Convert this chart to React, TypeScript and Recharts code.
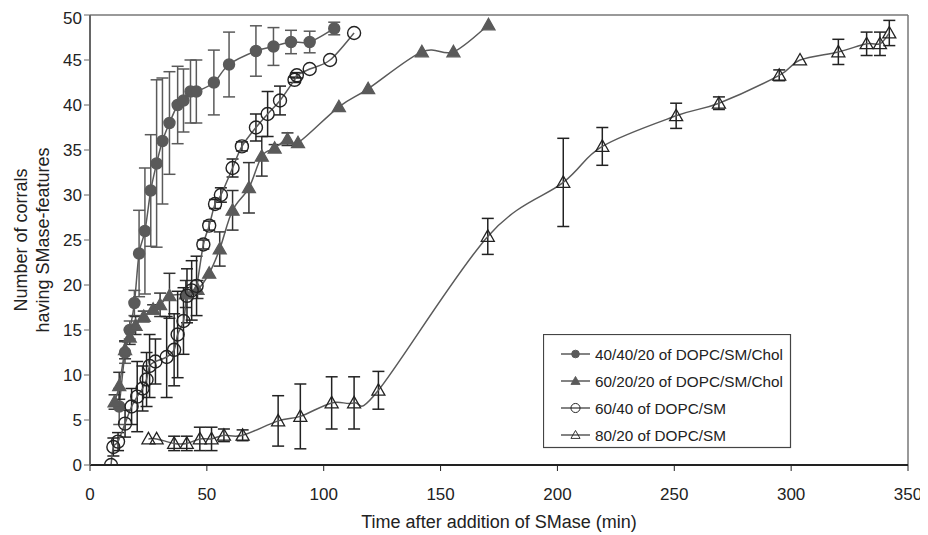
import React from 'react';
import {
  ComposedChart, Line, XAxis, YAxis, ErrorBar, ReferenceLine,
} from 'recharts';

// [time (min), corrals, error]
const cholCircle = [
  [12.5, 6.5, 2], [15, 12.5, 1.2], [17, 15, 1], [19, 18, 1.4], [21, 23.5, 4.8],
  [23.5, 26, 7], [26, 30.5, 6.2], [28.5, 33.5, 9.3], [31, 36, 7], [34, 38, 5.7],
  [37.5, 40, 4.3], [40, 40.5, 3.5], [43, 41.5, 3.5], [45.5, 41.5, 3.5], [53, 42.5, 3.6],
  [59.5, 44.5, 3.6], [71, 46, 2.8], [78.5, 46.5, 2.1], [86, 47, 1.3], [94, 47, 1.2],
  [104.5, 48.5, 0.7],
];
const cholTriangle = [
  [10.5, 7, 0.8], [12.5, 8.8, 1.5], [15, 12.8, 1], [17, 14.2, 0.8], [19.5, 15.5, 1],
  [23, 16.5, 0.6], [27, 17.3, 0.5], [30, 17.8, 1.3], [34, 18.8, 2.5], [41, 19, 1.5],
  [46, 19.5, 1], [51, 21.3, 0], [55.5, 24, 1.9], [61, 28.3, 2.2], [68, 30.8, 2.8],
  [73.5, 34.3, 2.2], [79, 35.2, 0.4], [84.5, 36.2, 0.7], [89, 35.8, 0], [106.5, 39.8, 0],
  [119, 41.8, 0], [142, 45.9, 0], [155.5, 45.9, 0], [170.5, 48.9, 0],
];
const smCircle = [
  [9, 0, 0], [10, 2, 1], [12, 2.6, 1], [15, 4.6, 1.5], [17.8, 6.5, 2], [20.2, 7.6, 3.9],
  [22.5, 8.5, 2.5], [24.2, 9.5, 3], [25.5, 11, 3.5], [28, 11.5, 2.5], [32.8, 12, 4.5],
  [36, 12.8, 4], [37.5, 14.5, 4.8], [40, 16, 3.7], [41.5, 18.8, 3], [43.5, 19.4, 3.3],
  [45.6, 19.9, 3.3], [48.5, 24.5, 0.5], [51, 26.6, 0.5], [53.5, 29, 0.5], [56, 30, 0.8],
  [61, 33, 1], [65, 35.4, 0.5], [71, 37.5, 1.5], [76, 39, 2.5], [81.3, 40.5, 1.6],
  [87.5, 42.8, 0.3], [88.5, 43.3, 0.3], [94, 44, 0], [102.7, 45, 0], [113, 48, 0],
];
const smTriangle = [
  [25, 2.9, 0], [28.5, 2.9, 0], [36, 2.4, 0.8], [41.4, 2.4, 0.8], [47, 2.9, 1.3],
  [52, 2.9, 1.3], [57.3, 3.3, 0.7], [65.3, 3.3, 0.6], [80.5, 4.9, 2.8], [90, 5.4, 3.6],
  [103.4, 6.9, 2.9], [113, 6.9, 2.9], [123.4, 8.3, 2.1], [170.2, 25.4, 2], [202.5, 31.4, 4.9],
  [219.2, 35.4, 2.1], [250.8, 38.8, 1.4], [269.1, 40.2, 0.7], [294.9, 43.3, 0.6], [303.8, 45, 0],
  [320.2, 45.9, 1.4], [332.3, 46.8, 1.3], [338, 46.8, 1.3], [342, 48, 1.4],
];

const xTicks = [0, 50, 100, 150, 200, 250, 300, 350];
const yTicks = [0, 5, 10, 15, 20, 25, 30, 35, 40, 45, 50];
const seriesNames = [
  '40/40/20 of DOPC/SM/Chol',
  '60/20/20 of DOPC/SM/Chol',
  '60/40 of DOPC/SM',
  '80/20 of DOPC/SM',
];

const toRows = (arr: number[][]) => arr.map(([x, y, e]) => ({ x, y, e }));

const FONT = '"Liberation Sans", Arial, sans-serif';
const GRAY = '#5a5a5a';
const DARK = '#222';

// Excel-style smoothing (Catmull-Rom through points)
function smoothCurve(context: any) {
  let xs: number[] = [];
  let ys: number[] = [];
  return {
    areaStart() {},
    areaEnd() {},
    lineStart() { xs = []; ys = []; },
    point(x: number, y: number) { xs.push(+x); ys.push(+y); },
    lineEnd() {
      const n = xs.length;
      if (!n) return;
      context.moveTo(xs[0], ys[0]);
      for (let i = 0; i < n - 1; i++) {
        const a = Math.max(i - 1, 0);
        const d = Math.min(i + 2, n - 1);
        context.bezierCurveTo(
          xs[i] + (xs[i + 1] - xs[a]) / 6, ys[i] + (ys[i + 1] - ys[a]) / 6,
          xs[i + 1] - (xs[d] - xs[i]) / 6, ys[i + 1] - (ys[d] - ys[i]) / 6,
          xs[i + 1], ys[i + 1],
        );
      }
    },
  };
}

type Kind = 'circle' | 'triangle';

const Marker = ({ cx, cy, kind, filled }: { cx: number; cy: number; kind: Kind; filled: boolean }) => {
  const fill = filled ? GRAY : 'none';
  const stroke = filled ? GRAY : DARK;
  if (kind === 'circle') {
    return <circle cx={cx} cy={cy} r={filled ? 5.5 : 6.5} fill={fill} stroke={stroke} strokeWidth={1.4} />;
  }
  const s = 6.5;
  const pts = `${cx},${cy - s} ${cx + s},${cy + s * 0.75} ${cx - s},${cy + s * 0.75}`;
  return <polygon points={pts} fill={fill} stroke={stroke} strokeWidth={1.3} />;
};

const makeDot = (kind: Kind, filled: boolean) => (props: any) => (
  <g key={`d-${kind}-${filled}-${props.index}`}>
    {props.cx != null && props.cy != null && (
      <Marker cx={props.cx} cy={props.cy} kind={kind} filled={filled} />
    )}
  </g>
);

const legendItems: { kind: Kind; filled: boolean }[] = [
  { kind: 'circle', filled: true },
  { kind: 'triangle', filled: true },
  { kind: 'circle', filled: false },
  { kind: 'triangle', filled: false },
];

// legend box drawn over the plot, bottom right
const LegendBox = () => (
  <svg width={249} height={115} style={{ position: 'absolute', left: 535, top: 326, display: 'block' }}>
    <rect x={0.5} y={0.5} width={247} height={113} fill="#fff" stroke="#444" strokeWidth={1.2} />
    {legendItems.map((it, i) => {
      const y = 20 + i * 27;
      return (
        <g key={i}>
          <line x1={18} x2={47} y1={y} y2={y} stroke={GRAY} strokeWidth={1.5} />
          <g transform={`translate(32.5 ${y}) scale(0.7) translate(-32.5 ${-y})`}>
            <Marker cx={32.5} cy={y} kind={it.kind} filled={it.filled} />
          </g>
          <text x={52} y={y + 6} fontSize={15.3} fontFamily={FONT} fill={DARK}>{seriesNames[i]}</text>
        </g>
      );
    })}
  </svg>
);

const YTitle = (props: any) => {
  const vb = props.viewBox || {};
  const cy = (vb.y ?? 7) + (vb.height ?? 450) / 2;
  return (
    <g fontFamily={FONT} fontSize={18} fill={DARK}>
      <text x={13} y={cy} transform={`rotate(-90 13 ${cy})`} textAnchor="middle" dominantBaseline="central">
        Number of corrals
      </text>
      <text x={35} y={cy} transform={`rotate(-90 35 ${cy})`} textAnchor="middle" dominantBaseline="central">
        having SMase-features
      </text>
    </g>
  );
};

const XTitle = (props: any) => {
  const vb = props.viewBox || {};
  const cx = (vb.x ?? 82) + (vb.width ?? 818) / 2;
  return (
    <text x={cx} y={520} textAnchor="middle" fontFamily={FONT} fontSize={18} fill={DARK}>
      Time after addition of SMase (min)
    </text>
  );
};

const series = [
  { data: toRows(cholCircle), kind: 'circle' as Kind, filled: true, bar: GRAY },
  { data: toRows(cholTriangle), kind: 'triangle' as Kind, filled: true, bar: '#333' },
  { data: toRows(smCircle), kind: 'circle' as Kind, filled: false, bar: DARK },
  { data: toRows(smTriangle), kind: 'triangle' as Kind, filled: false, bar: DARK },
];

export default function App() {
  return (
    <div style={{ position: 'relative', width: 920, height: 527, background: '#fff' }}>
      <ComposedChart width={920} height={527} margin={{ top: 7, right: 20, bottom: 30, left: 0 }}>
        <XAxis
          type="number"
          dataKey="x"
          domain={[0, 350]}
          ticks={xTicks}
          allowDataOverflow
          height={40}
          tickSize={6}
          tickMargin={17}
          tick={{ fontSize: 17, fill: DARK, fontFamily: FONT }}
          axisLine={{ stroke: DARK, strokeWidth: 2 }}
          tickLine={{ stroke: DARK }}
          label={<XTitle />}
        />
        <YAxis
          type="number"
          domain={[0, 50]}
          ticks={yTicks}
          allowDataOverflow
          width={82}
          tickSize={6}
          tickMargin={2}
          tick={{ fontSize: 17, fill: DARK, fontFamily: FONT }}
          axisLine={{ stroke: '#666', strokeWidth: 2 }}
          tickLine={{ stroke: '#666' }}
          label={<YTitle />}
        />
        <ReferenceLine y={50} stroke="#777" strokeWidth={1.5} />
        <ReferenceLine x={350} stroke="#777" strokeWidth={1.5} />
        {series.map((s, i) => (
          <Line
            key={seriesNames[i]}
            name={seriesNames[i]}
            data={s.data}
            dataKey="y"
            type={smoothCurve as any}
            stroke={GRAY}
            strokeWidth={1.5}
            dot={makeDot(s.kind, s.filled)}
            activeDot={false}
            isAnimationActive={false}
          >
            <ErrorBar dataKey="e" direction="y" width={6} stroke={s.bar} strokeWidth={1.5} />
          </Line>
        ))}
      </ComposedChart>
      <LegendBox />
    </div>
  );
}
